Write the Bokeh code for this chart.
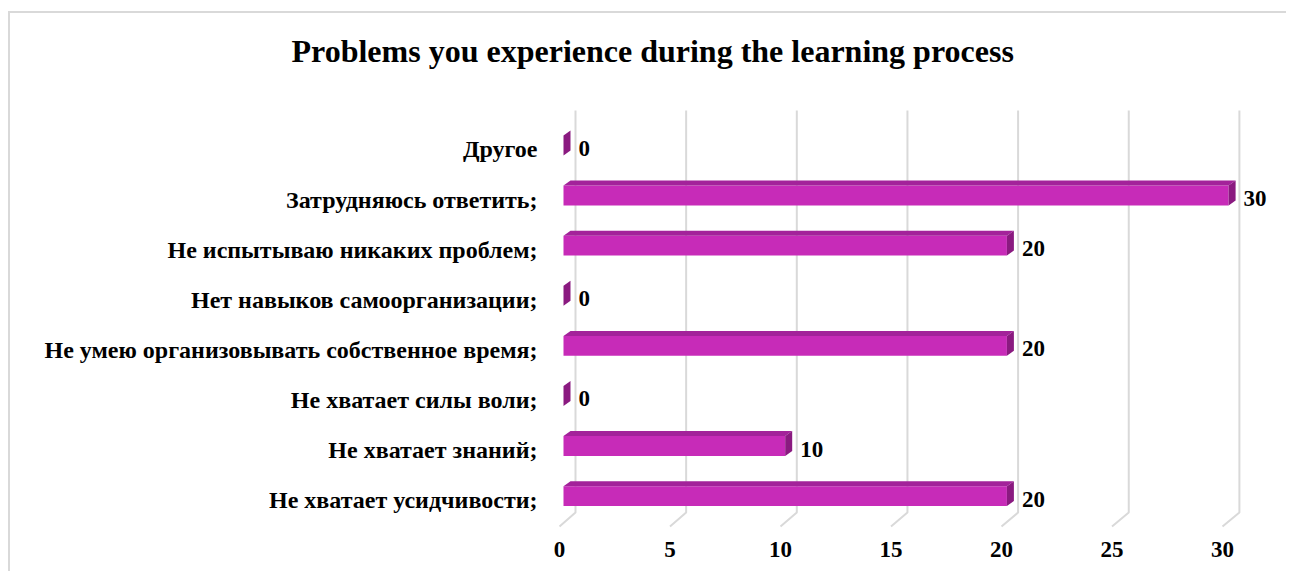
from bokeh.plotting import figure
from bokeh.models import Range1d, FixedTicker, LinearAxis, ColumnDataSource, Title
from bokeh.embed import file_html
from bokeh.resources import INLINE
from bokeh.core.properties import value

# ---------------- data ----------------
categories = [
    "Не хватает усидчивости;",
    "Не хватает знаний;",
    "Не хватает силы воли;",
    "Не умею организовывать собственное время;",
    "Нет навыков самоорганизации;",
    "Не испытываю никаких проблем;",
    "Затрудняюсь ответить;",
    "Другое",
]
values = [20, 10, 0, 20, 0, 20, 30, 0]
x_ticks = [0, 5, 10, 15, 20, 25, 30]
title_text = "Problems you experience during the learning process"

# ---------------- geometry (page pixels) ----------------
FIG_X0, FIG_Y0 = 10, 13
W, H = 1278, 560
PX_PER_X = 22.17
PX_PER_ROW = 50.33
X0_PX = 563.0
ROW0_PX = 495.5
FRAME_L, FRAME_R, FRAME_T, FRAME_B = 545, 1280, 87, 528
FLOOR0_PX, FLOOR_PX_PER_X = 559.0, 22.1
BACK0_PX, BACK_PX_PER_X = 575.0, 22.13
GRID_TOP_PX, GRID_BEND_PX, GRID_FRONT_PX = 108, 512, 526
LABEL_DY = 4
BAR_H_PX = 20
DEPTH_DX_PX, DEPTH_DY_PX = 7, 5

FRONT = "#C72BB8"
TOP = "#A3229A"
SIDE = "#8A1A80"
GRID = "#D9D9D9"
FONT = "Liberation Serif"

def xd(px):
    return (px - X0_PX) / PX_PER_X

def yd(px):
    return (ROW0_PX - px) / PX_PER_ROW

p = figure(
    width=W, height=H,
    x_range=Range1d(xd(FRAME_L), xd(FRAME_R)),
    y_range=Range1d(yd(FRAME_B), yd(FRAME_T)),
    output_backend="svg", toolbar_location=None,
    x_axis_location=None, y_axis_location=None,
    min_border_left=FRAME_L - FIG_X0, min_border_right=FIG_X0 + W - FRAME_R,
    min_border_top=FRAME_T - FIG_Y0, min_border_bottom=FIG_Y0 + H - FRAME_B,
)
p.xgrid.visible = False
p.ygrid.visible = False
p.outline_line_color = None
p.background_fill_color = "white"
p.border_fill_color = "white"
p.styles = {
    "margin-left": f"{FIG_X0}px",
    "margin-top": f"{FIG_Y0}px",
    "box-shadow": "-2px -2px 0px 0px #D9D9D9",
}

# extra ranges for label placement
p.extra_x_ranges = {"floor": Range1d((FRAME_L - FLOOR0_PX) / FLOOR_PX_PER_X, (FRAME_R - FLOOR0_PX) / FLOOR_PX_PER_X)}
p.extra_y_ranges = {"lab": Range1d((ROW0_PX + LABEL_DY - FRAME_B) / PX_PER_ROW, (ROW0_PX + LABEL_DY - FRAME_T) / PX_PER_ROW)}

# title
p.title = Title(text=title_text, align="left", offset=291 - FRAME_L,
                vertical_align="top", standoff=38,
                text_font=FONT, text_font_style="bold", text_font_size="32px",
                text_color="black")

# x axis (floor front)
xa = LinearAxis(x_range_name="floor", ticker=FixedTicker(ticks=x_ticks))
xa.axis_line_color = None
xa.major_tick_line_color = None
xa.minor_tick_line_color = None
xa.major_tick_out = 0
xa.major_tick_in = 0
xa.major_label_text_font = FONT
xa.major_label_text_font_style = "bold"
xa.major_label_text_font_size = "23px"
xa.major_label_text_color = "black"
xa.major_label_standoff = 13
p.add_layout(xa, "below")

# y axis (categories)
ya = LinearAxis(y_range_name="lab", ticker=FixedTicker(ticks=list(range(len(categories)))))
ya.major_label_overrides = {i: c for i, c in enumerate(categories)}
ya.axis_line_color = None
ya.major_tick_line_color = None
ya.minor_tick_line_color = None
ya.major_tick_out = 0
ya.major_tick_in = 0
ya.major_label_text_font = FONT
ya.major_label_text_font_style = "bold"
ya.major_label_text_font_size = "24px"
ya.major_label_text_color = "black"
ya.major_label_standoff = 8
p.add_layout(ya, "left")

# gridlines: back wall + floor diagonal
gxs, gys = [], []
for t in x_ticks:
    xb = xd(BACK0_PX + BACK_PX_PER_X * t)
    xf = xd(FLOOR0_PX + FLOOR_PX_PER_X * t)
    gxs.append([xb, xb, xf])
    gys.append([yd(GRID_TOP_PX), yd(GRID_BEND_PX), yd(GRID_FRONT_PX)])
p.multi_line(gxs, gys, line_color=GRID, line_width=2)

# 3D bars
h = BAR_H_PX / PX_PER_ROW
dx = DEPTH_DX_PX / PX_PER_X
dy = DEPTH_DY_PX / PX_PER_ROW
rows = list(range(len(categories)))
top_xs, top_ys, side_xs, side_ys = [], [], [], []
for i, v in zip(rows, values):
    yt, yb = i + h / 2, i - h / 2
    top_xs.append([0, v, v + dx, dx])
    top_ys.append([yt, yt, yt + dy, yt + dy])
    side_xs.append([v, v, v + dx, v + dx])
    side_ys.append([yb, yt, yt + dy, yb + dy])

src = ColumnDataSource(dict(y=rows, v=values, lab=[str(v) for v in values]))
p.hbar(y="y", left=0, right="v", height=h, source=src, fill_color=FRONT, line_color=None)
p.patches(top_xs, top_ys, fill_color=TOP, line_color=None)
p.patches(side_xs, side_ys, fill_color=SIDE, line_color=None)

# value labels
p.text(x="v", y="y", text="lab", source=src, x_offset=15, y_offset=3,
       text_font=value(FONT), text_font_style="bold", text_font_size="23px",
       text_color="black", text_align="left", text_baseline="middle")

open("out.html", "w").write(file_html(p, INLINE))
